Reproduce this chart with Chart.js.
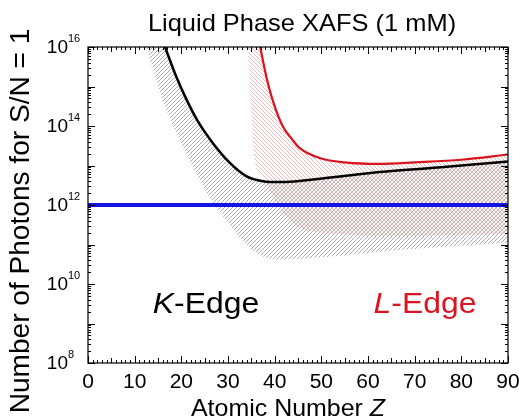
<!DOCTYPE html>
<html>
<head>
<meta charset="utf-8">
<script src="https://cdn.jsdelivr.net/npm/chart.js@4.4.1/dist/chart.umd.min.js"></script>
<style>
  body { margin: 0; background: #fff; }
  #wrap { width: 519px; height: 418px; }
</style>
</head>
<body>
<div id="wrap"><canvas id="snChart" width="519" height="418"></canvas></div>
<script>
// K-edge and L-edge photon requirement curves (photons for S/N = 1)
const zK = [16.5, 18.9, 21, 23.4, 26.6, 30.3, 33.9, 37.5, 41, 52, 62.5, 75, 90];
const kEdge = [1e16, 1.8e15, 5.0e14, 1.4e14, 3.9e13, 1.2e13, 5.4e12, 4.0e12, 3.8e12, 5.0e12, 6.8e12, 8.9e12, 1.26e13];

const zL = [36.9, 38.2, 39.5, 41.7, 43.5, 45.3, 50, 55, 62.5, 70, 80, 90];
const lEdge = [1e16, 1.8e15, 4.8e14, 1e14, 5e13, 2.8e13, 1.5e13, 1.2e13, 1.1e13, 1.2e13, 1.4e13, 1.9e13];

// hatched ranges
const zKBand = [12.5, 14, 16.5, 18.9, 21, 23.4, 26.6, 30.3, 33.9, 37.5, 41, 52, 62.5, 75, 90];
const kBandTop = [1e16, 1e16, 1e16, 1.8e15, 5.0e14, 1.4e14, 3.9e13, 1.2e13, 5.4e12, 4.0e12, 3.8e12, 5.0e12, 6.8e12, 8.9e12, 1.26e13];
const kBandBottom = [1e16, 2.6e15, 3.2e14, 6.8e13, 2.0e13, 5.6e12, 1.26e12, 3.2e11, 1.0e11, 5.0e10, 4.2e10, 5.0e10, 6.6e10, 8.5e10, 1.1e11];

const zLBand = [34.2, 35, 35.6, 36.9, 38.2, 39.5, 41.7, 43.5, 45.3, 50, 55, 62.5, 70, 80, 90];
const lBandTop = [1e16, 1e16, 1e16, 1e16, 1.8e15, 4.8e14, 1e14, 5e13, 2.8e13, 1.5e13, 1.2e13, 1.1e13, 1.2e13, 1.4e13, 1.9e13];
const lBandBottom = [1e16, 2.5e14, 1.6e13, 6.3e12, 3.2e12, 1.8e12, 7.1e11, 4e11, 2.7e11, 2e11, 1.8e11, 1.66e11, 1.66e11, 1.75e11, 1.85e11];

// 1e12 photon level
const zLimit = [0, 90];
const limit = [1e12, 1e12];

const xTicks = [0, 10, 20, 30, 40, 50, 60, 70, 80, 90];
const yTickExps = [8, 10, 12, 14, 16];

const FONT = '"Liberation Sans", Arial, sans-serif';

function pts(xs, ys) {
  return xs.map((x, i) => ({ x: x, y: ys[i] }));
}

function hatch(color, dir) {
  const s = 4;
  const c = document.createElement('canvas');
  c.width = s; c.height = s;
  const g = c.getContext('2d');
  g.strokeStyle = color;
  g.lineWidth = 1;
  g.beginPath();
  if (dir > 0) {
    g.moveTo(0, s); g.lineTo(s, 0);
    g.moveTo(-1, 1); g.lineTo(1, -1);
    g.moveTo(s - 1, s + 1); g.lineTo(s + 1, s - 1);
  } else {
    g.moveTo(0, 0); g.lineTo(s, s);
    g.moveTo(s - 1, -1); g.lineTo(s + 1, 1);
    g.moveTo(-1, s - 1); g.lineTo(1, s + 1);
  }
  g.stroke();
  return g.createPattern(c, 'repeat');
}

// draws a row of text pieces, stretched horizontally by sx
function textRun(ctx, parts, x, y, sx, align) {
  let w = 0;
  parts.forEach(p => { ctx.font = p.font; w += ctx.measureText(p.text).width; });
  ctx.save();
  ctx.translate(x, y);
  ctx.scale(sx, 1);
  let cx = align === 'center' ? -w / 2 : (align === 'right' ? -w : 0);
  ctx.textAlign = 'left';
  ctx.textBaseline = 'alphabetic';
  parts.forEach(p => {
    ctx.font = p.font;
    ctx.fillStyle = p.color || '#000';
    ctx.fillText(p.text, cx, 0);
    cx += ctx.measureText(p.text).width;
  });
  ctx.restore();
}

const framePlugin = {
  id: 'frame',
  beforeDraw(chart) {
    const ctx = chart.ctx;
    ctx.save();
    ctx.fillStyle = '#fff';
    ctx.fillRect(0, 0, chart.width, chart.height);
    ctx.restore();
  },
  afterDraw(chart) {
    const ctx = chart.ctx;
    const xs = chart.scales.x, ys = chart.scales.y;
    const { left, right, top, bottom } = chart.chartArea;
    ctx.save();
    ctx.strokeStyle = '#000';
    ctx.lineWidth = 1.2;
    ctx.strokeRect(left, top, right - left, bottom - top);

    // ticks on all four sides, pointing inward
    ctx.lineWidth = 1;
    ctx.beginPath();
    for (let z = 0; z <= 90; z++) {
      const px = Math.round(xs.getPixelForValue(z)) + 0.5;
      const len = z % 10 === 0 ? 7 : (z % 5 === 0 ? 5 : 3);
      ctx.moveTo(px, bottom); ctx.lineTo(px, bottom - len);
      ctx.moveTo(px, top); ctx.lineTo(px, top + len);
    }
    for (let e = 8; e <= 16; e++) {
      for (let m = 1; m <= 9; m++) {
        if (e === 16 && m > 1) break;
        const py = Math.round(ys.getPixelForValue(m * Math.pow(10, e))) + 0.5;
        const len = m === 1 ? 7 : 3;
        ctx.moveTo(left, py); ctx.lineTo(left + len, py);
        ctx.moveTo(right, py); ctx.lineTo(right - len, py);
      }
    }
    ctx.stroke();

    // x tick labels
    ctx.fillStyle = '#000';
    xTicks.forEach(v => {
      textRun(ctx, [{ text: String(v), font: '20px ' + FONT }], xs.getPixelForValue(v), bottom + 25, 1.05, 'center');
    });

    // y tick labels 10^n
    yTickExps.forEach(e => {
      const py = ys.getPixelForValue(Math.pow(10, e));
      ctx.font = '19px ' + FONT;
      ctx.textAlign = 'right';
      ctx.textBaseline = 'alphabetic';
      ctx.fillText('10', 68, py + 6);
      ctx.font = '11px ' + FONT;
      ctx.textAlign = 'left';
      ctx.fillText(String(e), 68, py - 5);
    });

    // axis titles
    textRun(ctx, [
      { text: 'Atomic Number ', font: '24px ' + FONT },
      { text: 'Z', font: 'italic 24px ' + FONT }
    ], (left + right) / 2 - 10, 416, 1.04, 'center');

    ctx.save();
    ctx.translate(29, 221);
    ctx.rotate(-Math.PI / 2);
    textRun(ctx, [{ text: 'Number of Photons for S/N = 1', font: '27px ' + FONT }], 0, 0, 1.04, 'center');
    ctx.restore();

    // title
    textRun(ctx, [{ text: 'Liquid Phase XAFS (1 mM)', font: '24px ' + FONT }], 302, 31, 1.06, 'center');

    // edge labels
    textRun(ctx, [
      { text: 'K', font: 'italic 29px ' + FONT },
      { text: '-Edge', font: '29px ' + FONT }
    ], 206, 313, 1.1, 'center');
    textRun(ctx, [
      { text: 'L', font: 'italic 29px ' + FONT, color: '#dd1522' },
      { text: '-Edge', font: '29px ' + FONT, color: '#dd1522' }
    ], 425, 313, 1.1, 'center');
    ctx.restore();
  }
};

const ctx = document.getElementById('snChart').getContext('2d');
const grayHatch = hatch('rgba(120,120,120,0.6)', 1);
const redHatch = hatch('rgba(230,130,130,0.55)', -1);

const snChart = new Chart(ctx, {
  type: 'line',
  data: {
    datasets: [
      {
        label: 'K-Edge',
        data: pts(zK, kEdge),
        borderColor: '#000',
        borderWidth: 2.5,
        cubicInterpolationMode: 'monotone',
        pointRadius: 0,
        fill: false,
        order: 0
      },
      {
        label: 'L-Edge',
        data: pts(zL, lEdge),
        borderColor: '#d8141e',
        borderWidth: 2.2,
        cubicInterpolationMode: 'monotone',
        pointRadius: 0,
        fill: false,
        order: 1
      },
      {
        label: '1e12',
        data: pts(zLimit, limit),
        borderColor: '#1414e6',
        borderWidth: 4,
        pointRadius: 0,
        fill: false,
        order: 2
      },
      {
        label: 'L range',
        data: pts(zLBand, lBandTop),
        borderWidth: 0,
        borderColor: 'rgba(0,0,0,0)',
        backgroundColor: redHatch,
        cubicInterpolationMode: 'monotone',
        pointRadius: 0,
        fill: { target: 4 },
        order: 3
      },
      {
        label: 'L range low',
        data: pts(zLBand, lBandBottom),
        borderWidth: 0,
        borderColor: 'rgba(0,0,0,0)',
        cubicInterpolationMode: 'monotone',
        pointRadius: 0,
        fill: false,
        order: 3
      },
      {
        label: 'K range',
        data: pts(zKBand, kBandTop),
        borderWidth: 0,
        borderColor: 'rgba(0,0,0,0)',
        backgroundColor: grayHatch,
        cubicInterpolationMode: 'monotone',
        pointRadius: 0,
        fill: { target: 6 },
        order: 4
      },
      {
        label: 'K range low',
        data: pts(zKBand, kBandBottom),
        borderWidth: 0,
        borderColor: 'rgba(0,0,0,0)',
        cubicInterpolationMode: 'monotone',
        pointRadius: 0,
        fill: false,
        order: 4
      }
    ]
  },
  options: {
    responsive: false,
    animation: false,
    devicePixelRatio: 1,
    layout: { padding: { left: 88, top: 47, right: 11, bottom: 55 } },
    scales: {
      x: { type: 'linear', min: 0, max: 90, display: false },
      y: { type: 'logarithmic', min: 1e8, max: 1e16, display: false }
    },
    plugins: {
      legend: { display: false },
      tooltip: { enabled: false }
    }
  },
  plugins: [framePlugin]
});
</script>
</body>
</html>
